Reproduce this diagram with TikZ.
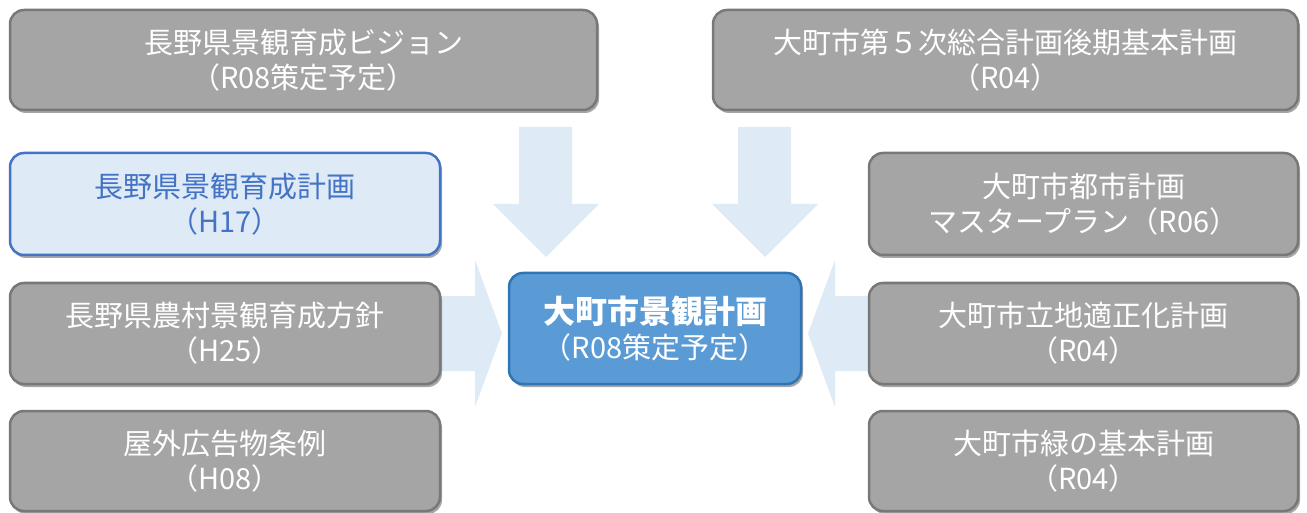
\documentclass[tikz,border=0pt]{standalone}
\usepackage{fontspec}
\setmainfont{Noto Sans CJK JP}
\usetikzlibrary{shadows}
\definecolor{grayfill}{HTML}{A5A5A5}
\definecolor{grayline}{HTML}{787878}
\definecolor{arrowblue}{HTML}{DEEAF6}
\definecolor{lightfill}{HTML}{DEEBF7}
\definecolor{blueline}{HTML}{4472C4}
\definecolor{centerfill}{HTML}{5B9BD5}
\definecolor{centerline}{HTML}{2E75B6}
\begin{document}
\begin{tikzpicture}[x=1pt,y=-1pt,
  basebox/.style={rounded corners=14pt, line width=2.5pt, align=center, inner sep=0pt,
    font=\fontsize{29}{35}\selectfont,
    drop shadow={shadow xshift=2pt, shadow yshift=-3pt, opacity=0.35, fill=black}},
  graybox/.style={basebox, draw=grayline, fill=grayfill, text=white},
  lightbox/.style={basebox, draw=blueline, fill=lightfill, text=blueline},
  centerbox/.style={basebox, draw=centerline, fill=centerfill, text=white},
  blockarrow/.style={fill=arrowblue, draw=none}]
\useasboundingbox (0,0) rectangle (1307,513);
% block arrows (behind boxes)
\fill[blockarrow] (519,127) -- (572,127) -- (572,204) -- (599,204) -- (546,257) -- (493,204) -- (519,204) -- cycle;
\fill[blockarrow] (738,127) -- (791,127) -- (791,204) -- (818,204) -- (765,257) -- (712,204) -- (738,204) -- cycle;
\fill[blockarrow] (440,296) -- (475,296) -- (475,260) -- (502,333.5) -- (475,407) -- (475,371) -- (440,371) -- cycle;
\fill[blockarrow] (869,296) -- (835,296) -- (835,260) -- (808,333.5) -- (835,407) -- (835,371) -- (869,371) -- cycle;
% boxes
\node[graybox, minimum width=587pt, minimum height=100pt] (vision) at (303.5,60) {長野県景観育成ビジョン\\（R08策定予定）};
\node[graybox, minimum width=585pt, minimum height=100pt] (sogo) at (1005.5,60) {大町市第５次総合計画後期基本計画\\（R04）};
\node[lightbox, minimum width=430pt, minimum height=102pt] (keikaku) at (225,204) {長野県景観育成計画\\（H17）};
\node[graybox, minimum width=430pt, minimum height=101pt] (noson) at (225,333.5) {長野県農村景観育成方針\\（H25）};
\node[graybox, minimum width=430pt, minimum height=100pt] (okugai) at (225,461) {屋外広告物条例\\（H08）};
\node[graybox, minimum width=429pt, minimum height=102pt] (toshi) at (1083.5,204) {大町市都市計画\\マスタープラン（R06）};
\node[graybox, minimum width=429pt, minimum height=101pt] (ricchi) at (1083.5,333.5) {大町市立地適正化計画\\（R04）};
\node[graybox, minimum width=429pt, minimum height=100pt] (midori) at (1083.5,461) {大町市緑の基本計画\\（R04）};
\node[centerbox, minimum width=292pt, minimum height=111pt] (main) at (655,328.5) {{\fontsize{32}{38}\selectfont\bfseries 大町市景観計画}\\（R08策定予定）};
\end{tikzpicture}
\end{document}
